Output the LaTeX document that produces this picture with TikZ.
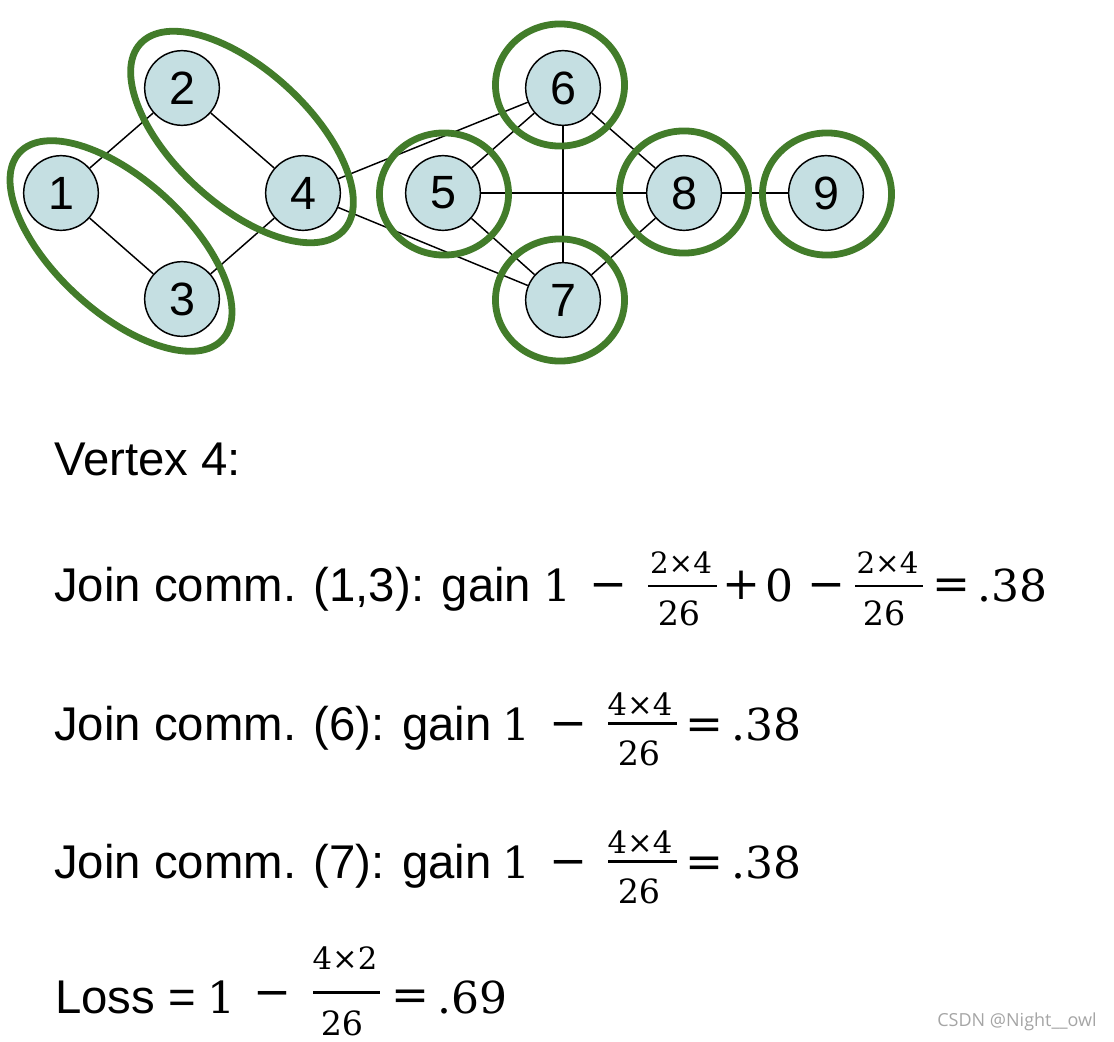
\documentclass[tikz,border=0pt]{standalone}
\usepackage{fontspec}
\setmainfont{Liberation Sans}
\newfontfamily\mserif{DejaVu Serif}
\newfontfamily\wmfont{Open Sans}
\definecolor{nodefill}{RGB}{197,223,226}
\definecolor{grp}{RGB}{66,124,42}
\definecolor{wmgray}{RGB}{165,165,165}
\tikzset{
  vtx/.style={circle, draw=black, line width=1.1pt, fill=nodefill, minimum size=56pt, inner sep=0pt, font=\fontsize{35}{35}\selectfont},
  link/.style={line width=1.1pt, draw=black},
  comm/.style={draw=grp, line width=5.1pt},
  txt/.style={inner sep=0pt, anchor=base west, font=\fontsize{35.5}{40}\selectfont},
  mth/.style={inner sep=0pt, anchor=base, font=\mserif\fontsize{33}{33}\selectfont},
  ops/.style={inner sep=0pt, anchor=base, font=\mserif\fontsize{34}{34}\selectfont},
  numa/.style={inner sep=0pt, anchor=base, font=\mserif\fontsize{22}{22}\selectfont},
  numb/.style={inner sep=0pt, anchor=base, font=\mserif\fontsize{23}{23}\selectfont},
  den/.style={inner sep=0pt, anchor=base, font=\mserif\fontsize{25}{25}\selectfont},
  fbar/.style={line width=2.2pt, draw=black},
  wmark/.style={inner sep=0pt, anchor=base east, text=wmgray, font=\wmfont\fontsize{13.5}{14}\selectfont}
}
\begin{document}
\begin{tikzpicture}[x=0.75pt,y=-0.75pt]
\useasboundingbox (0,0) rectangle (1114,1042);

% vertices
\node[vtx] (n1) at (61,193) {1};
\node[vtx] (n2) at (182,88) {2};
\node[vtx] (n3) at (182,299) {3};
\node[vtx] (n4) at (303,193) {4};
\node[vtx] (n5) at (443,193) {5};
\node[vtx] (n6) at (563,88) {6};
\node[vtx] (n7) at (563,300) {7};
\node[vtx] (n8) at (684,193) {8};
\node[vtx] (n9) at (826,193) {9};

% edges
\draw[link] (n1) -- (n2);
\draw[link] (n1) -- (n3);
\draw[link] (n2) -- (n4);
\draw[link] (n3) -- (n4);
\draw[link] (n4) -- (n6);
\draw[link] (n4) -- (n7);
\draw[link] (n5) -- (n6);
\draw[link] (n5) -- (n7);
\draw[link] (n5) -- (n8);
\draw[link] (n6) -- (n7);
\draw[link] (n6) -- (n8);
\draw[link] (n7) -- (n8);
\draw[link] (n8) -- (n9);

% communities
\draw[comm, rotate around={-42.6:(121,246)}] (121,246) ellipse [x radius=103.5pt, y radius=49.5pt];
\draw[comm, rotate around={-42.6:(242,137)}] (242,137) ellipse [x radius=103.5pt, y radius=50.5pt];
\draw[comm] (444,194) ellipse [x radius=48.4pt, y radius=45.8pt];
\draw[comm] (560,85) ellipse [x radius=48.4pt, y radius=45.8pt];
\draw[comm] (560,300) ellipse [x radius=48.4pt, y radius=45.8pt];
\draw[comm] (684,192) ellipse [x radius=48.4pt, y radius=45.8pt];
\draw[comm] (827,194) ellipse [x radius=48.4pt, y radius=45.8pt];

% text lines
\node[txt] (t0) at (54,475) {Vertex 4:};
\node[txt] (t1) at (54,601.5) {Join comm. (1,3): gain};
\node[txt] (t2) at (54,740.5) {Join comm. (6): gain};
\node[txt] (t3) at (54,878) {Join comm. (7): gain};
\node[txt] (t4) at (55,1013) {Loss =};

% line 1 formula
\node[mth] (a1) at (557,601.5) {1};
\node[ops] (a2) at (608,599.5) {−};
\draw[fbar] (648,586) -- (717,586);
\node[numa] (a3) at (681,573.3) {2×4};
\node[den] (a4) at (679,625.7) {26};
\node[ops] (a5) at (741.7,599.5) {+};
\node[mth] (a6) at (779,601.5) {0};
\node[ops] (a7) at (826.7,599.5) {−};
\draw[fbar] (855,586) -- (923.3,586);
\node[numa] (a8) at (887.5,573.3) {2×4};
\node[den] (a9) at (884,625.7) {26};
\node[ops] (a10) at (951.7,599.5) {=};
\node[mth] (a11) at (1012.5,601.5) {.38};

% line 2 formula
\node[mth] (b1) at (516.5,740) {1};
\node[ops] (b2) at (568.3,738) {−};
\draw[fbar] (608.3,723.3) -- (676.7,723.3);
\node[numb] (b3) at (640,715) {4×4};
\node[den] (b4) at (639,765) {26};
\node[ops] (b5) at (704,739) {=};
\node[mth] (b6) at (766.7,740) {.38};

% line 3 formula
\node[mth] (c1) at (516.5,878) {1};
\node[ops] (c2) at (568.3,876) {−};
\draw[fbar] (608.3,861.3) -- (676.7,861.3);
\node[numb] (c3) at (640,853) {4×4};
\node[den] (c4) at (639,903) {26};
\node[ops] (c5) at (704,877) {=};
\node[mth] (c6) at (766.7,878) {.38};

% loss formula
\node[mth] (d1) at (221,1013) {1};
\node[ops] (d2) at (272.3,1007) {−};
\draw[fbar] (313,992.7) -- (380,992.7);
\node[numb] (d3) at (345,969.5) {4×2};
\node[den] (d4) at (342,1035) {26};
\node[ops] (d5) at (410.8,1010) {=};
\node[mth] (d6) at (472.3,1013) {.69};

% watermark
\node[wmark] (wm) at (1097,1026.7) {CSDN @Night\_\_owl};
\end{tikzpicture}
\end{document}
